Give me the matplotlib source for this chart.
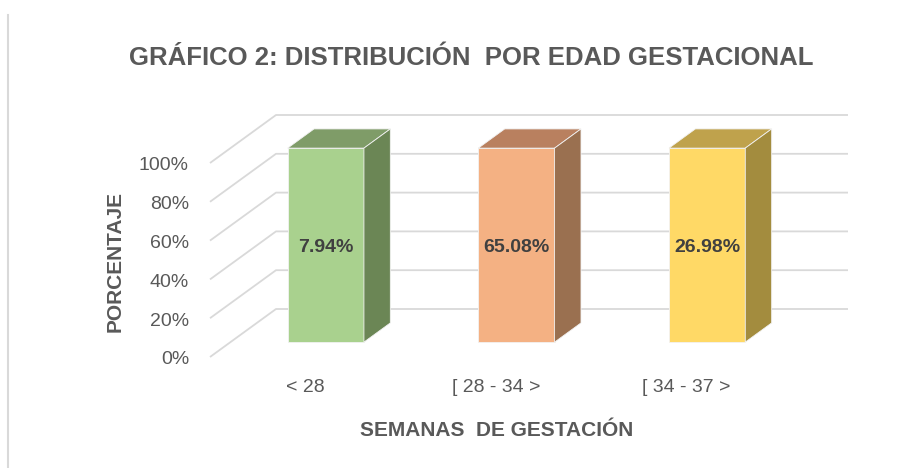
import numpy as np
import matplotlib.pyplot as plt
from matplotlib.patches import Polygon

# Datos del grafico
categorias = ['< 28', '[ 28 - 34 >', '[ 34 - 37 >']
alturas = [100, 100, 100]          # columnas 100% apiladas
etiquetas = ['7.94%', '65.08%', '26.98%']
ticks_y = [0, 20, 40, 60, 80, 100]

col_frente = ['#a9d18e', '#f4b183', '#ffd966']
col_arriba = ['#7f9c68', '#b9805f', '#bfa24c']
col_lado = ['#6b8655', '#9a7050', '#a38c3e']

plt.rcParams['font.family'] = ['Liberation Sans', 'DejaVu Sans']
gris = '#595959'

fig = plt.figure(figsize=(9.18, 4.68), dpi=100)
ax = fig.add_axes([0, 0, 1, 1])
# escalas: categoria -0.5 -> px 210, 2.5 -> px 782 ; 0% -> px 357, 100% -> px 163
ppx = 572 / 3.0
ppy = 1.94
ax.set_xlim(-0.5 - 210 / ppx, -0.5 + (918 - 210) / ppx)
ax.set_ylim(-111 / ppy, (468 - 111) / ppy)
ax.axis('off')

# profundidad (oblicua)
dx = 66 / ppx
dy = 48 / ppy
x0, x1 = -0.5, len(categorias) - 0.5

# rejilla en perspectiva
for t in ticks_y:
    ax.plot([x0, x0 + dx, x1 + dx], [t, t + dy, t + dy], color='#d9d9d9', lw=1.3,
            zorder=1, solid_capstyle='butt')
    ax.text(x0 - 21 / ppx, t - 3 / ppy, f'{t}%', ha='right', va='center',
            fontsize=14, color=gris)

# barras 3D
ancho = 0.4
d0, d1 = 0.31, 0.71
for i, h in enumerate(alturas):
    xl = i - ancho / 2 + d0 * dx
    xr = i + ancho / 2 + d0 * dx
    yb = d0 * dy
    yt = h + d0 * dy
    ox = (d1 - d0) * dx
    oy = (d1 - d0) * dy
    kw = dict(lw=0.6, edgecolor='#f2f2f2', zorder=3, alpha=1)
    ax.add_patch(Polygon([(xl, yb), (xr, yb), (xr, yt), (xl, yt)],
                         facecolor=col_frente[i], **kw))
    ax.add_patch(Polygon([(xl, yt), (xr, yt), (xr + ox, yt + oy), (xl + ox, yt + oy)],
                         facecolor=col_arriba[i], **kw))
    ax.add_patch(Polygon([(xr, yb), (xr + ox, yb + oy), (xr + ox, yt + oy), (xr, yt)],
                         facecolor=col_lado[i], **kw))
    ax.text((xl + xr) / 2, (yb + yt) / 2 - 2 / ppy, etiquetas[i], ha='center',
            va='center', fontsize=14, fontweight='bold', color='#404040', zorder=4)
    ax.text(i, -30 / ppy, categorias[i], ha='center', va='center',
            fontsize=14, color=gris)

fig.text(471 / 918, 1 - 58 / 468, 'GRÁFICO 2: DISTRIBUCIÓN  POR EDAD GESTACIONAL',
         ha='center', va='center', fontsize=18.5, fontweight='bold', color=gris)
fig.text(115 / 918, 1 - 262 / 468, 'PORCENTAJE', rotation=90, ha='center',
         va='center', fontsize=15, fontweight='bold', color=gris)
fig.text(497 / 918, 1 - 431 / 468, 'SEMANAS  DE GESTACIÓN', ha='center',
         va='center', fontsize=15, fontweight='bold', color=gris)

# borde izquierdo
fig.add_artist(plt.Line2D([8 / 918, 8 / 918], [0, 1 - 15 / 468], color='#d9d9d9', lw=1.5))

fig.savefig('out.png', dpi=100)
